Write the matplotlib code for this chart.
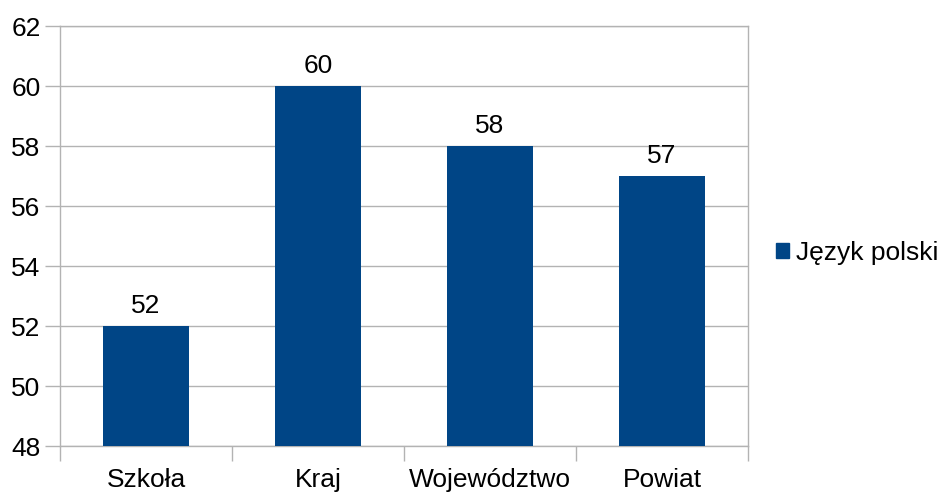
import matplotlib
matplotlib.use("Agg")
import matplotlib.pyplot as plt
from matplotlib.patches import Patch

categories = ["Szkoła", "Kraj", "Województwo", "Powiat"]
values = [52, 60, 58, 57]
series_name = "Język polski"
yticks = [48, 50, 52, 54, 56, 58, 60, 62]

plt.rcParams['font.family'] = ['Liberation Sans', 'DejaVu Sans']
color = "#004586"
grid = "#b3b3b3"
fs = 19

fig = plt.figure(figsize=(9.49, 4.94), dpi=100)
ax = fig.add_axes([60/949, 1-446/494, (748-60)/949, (446-26)/494])

x = list(range(len(categories)))
bars = ax.bar(x, values, width=0.5, color=color, zorder=3)
ax.set_xlim(-0.5, len(categories)-0.5)
ax.set_ylim(48, 62)
ax.set_yticks(yticks)
ax.yaxis.grid(True, color=grid, linewidth=1, zorder=0)
ax.set_xticks(x)
ax.set_xticklabels(categories, fontsize=fs)
ax.set_xticks([i-0.5 for i in range(len(categories)+1)], minor=True)
ax.tick_params(axis='x', which='major', length=0, pad=16)
ax.tick_params(axis='x', which='minor', length=11, color=grid, width=1)
ax.tick_params(axis='y', length=11, color=grid, width=1, labelsize=fs, pad=3)
for s in ax.spines.values():
    s.set_color(grid)
    s.set_linewidth(1)

for xi, v in zip(x, values):
    ax.annotate(str(v), (xi, v), xytext=(0, 6), textcoords='offset points',
                ha='center', va='bottom', fontsize=fs)

fig.legend(handles=[Patch(color=color, label=series_name)],
           loc='center left', bbox_to_anchor=(776/949, 1-253/494),
           frameon=False, fontsize=fs, handlelength=0.5, handleheight=0.5,
           handletextpad=0.27, borderaxespad=0, borderpad=0)

fig.savefig("out.png", dpi=100)
